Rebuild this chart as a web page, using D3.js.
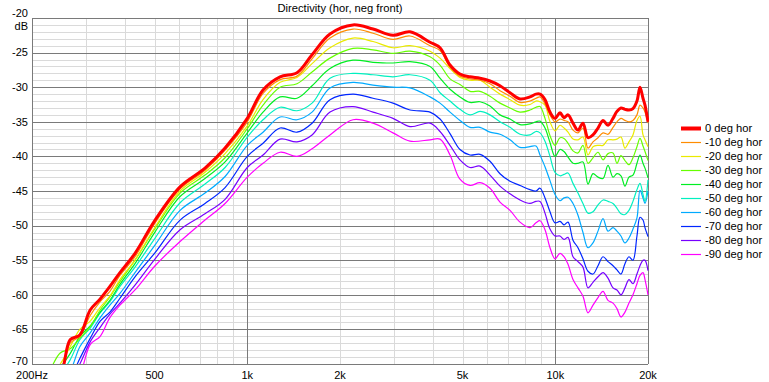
<!DOCTYPE html>
<html><head><meta charset="utf-8">
<script src="https://cdn.jsdelivr.net/npm/d3@7"></script>
<style>
body{margin:0;background:#fff;}
svg{display:block;font-family:"Liberation Sans",Arial,sans-serif;}
</style></head><body>
<svg id="chart" width="769" height="382"></svg>
<script>
// ---- data (Hz, dB) ----
const freqs = [229,247,266,286,309,333,358,386,432,502,605,729,847,1000,1125,1278,1450,1623,1856,2204,2560,2972,3375,3920,4224,4552,4904,5286,5697,6138,6614,7129,7682,8278,8656,8921,9260,9612,9980,10360,10675,11000,11416,11850,12300,12770,13256,13762,14288,14830,15396,15860,16340,16836,17346,17874,18416,18838,19266,19556,20000];

const deg0 = [-72,-71.5,-66.5,-65.8,-62.2,-60.6,-58.8,-56.8,-54.0,-49.2,-44.4,-41.7,-38.8,-34.5,-30.4,-28.5,-27.9,-25.3,-22.3,-21.0,-21.6,-22.5,-22.0,-23.5,-24.3,-26.8,-28.1,-28.5,-28.7,-29.1,-29.8,-30.8,-31.7,-31.4,-31.0,-31.0,-31.8,-33.6,-34.5,-33.7,-34.4,-34.0,-35.2,-36.2,-35.2,-37.3,-36.9,-35.9,-34.8,-35.5,-34.5,-33.5,-33.0,-33.2,-33.3,-33.1,-32.0,-30.0,-31.6,-32.6,-35.0];
const deg10 = [-72.5,-71.5,-67.0,-66.0,-63.0,-61.0,-59.5,-57.2,-54.5,-49.6,-44.7,-42.0,-39.1,-35.0,-30.9,-28.9,-28.4,-25.9,-22.9,-21.6,-22.2,-23.1,-22.6,-24.0,-24.7,-27.1,-28.4,-28.8,-29.0,-29.5,-30.5,-31.3,-32.2,-32.0,-31.6,-31.4,-32.4,-34.0,-35.0,-34.6,-34.8,-35.0,-36.2,-36.6,-35.9,-38.8,-37.9,-37.3,-36.6,-36.8,-35.8,-35.0,-34.5,-34.8,-35.0,-34.8,-34.0,-32.6,-33.0,-33.6,-35.2];
const deg20 = [-71.5,-70.0,-67.5,-65.0,-63.8,-61.8,-60.2,-57.8,-55.0,-50.2,-45.0,-42.3,-39.6,-35.6,-31.8,-29.3,-28.6,-26.6,-24.3,-22.9,-23.4,-24.3,-24.0,-24.8,-25.8,-27.3,-28.6,-29.0,-29.0,-30.0,-31.0,-31.8,-32.6,-32.5,-32.0,-32.1,-32.6,-35.0,-36.3,-35.5,-35.9,-36.5,-37.5,-37.6,-37.2,-39.8,-38.6,-38.4,-38.4,-37.6,-37.6,-37.5,-37.2,-38.8,-37.9,-36.9,-34.8,-34.2,-36.9,-37.6,-38.6];
const deg30 = [-71.0,-68.4,-67.8,-66.3,-64.6,-62.2,-60.3,-58.1,-55.0,-50.4,-45.3,-42.7,-40.2,-36.0,-32.6,-30.0,-29.5,-27.8,-25.8,-24.4,-24.6,-25.1,-24.8,-25.6,-26.8,-28.8,-29.6,-30.6,-30.6,-31.3,-32.3,-33.0,-33.6,-33.3,-32.9,-32.8,-34.5,-37.0,-38.4,-37.3,-37.4,-38.1,-39.2,-39.5,-38.4,-41.0,-40.2,-39.4,-40.5,-39.6,-39.5,-41.0,-39.9,-40.6,-41.2,-40.2,-38.6,-37.4,-38.5,-39.3,-40.6];
const deg40 = [-72.0,-70.5,-68.5,-66.0,-64.5,-62.5,-60.8,-58.5,-55.5,-50.9,-45.8,-43.2,-40.8,-36.6,-33.6,-31.4,-31.6,-29.8,-27.3,-26.1,-26.4,-26.5,-26.3,-27.0,-28.7,-30.3,-31.4,-32.2,-32.1,-32.7,-34.0,-34.6,-35.4,-35.3,-35.0,-34.9,-35.9,-38.0,-40.0,-39.0,-39.3,-40.1,-41.0,-41.0,-40.8,-44.0,-42.5,-43.0,-43.2,-41.3,-43.0,-42.5,-42.8,-44.3,-43.0,-42.7,-41.0,-39.8,-41.0,-41.7,-43.1];
const deg50 = [-73.0,-71.5,-69.4,-66.5,-64.8,-62.6,-61.0,-58.8,-56.0,-51.8,-46.7,-44.0,-41.6,-37.2,-34.7,-32.9,-33.4,-32.3,-28.7,-28.0,-28.2,-28.5,-28.2,-29.0,-30.8,-32.0,-33.2,-34.0,-33.5,-34.0,-35.0,-35.8,-36.8,-36.9,-36.4,-36.6,-37.8,-40.0,-42.3,-42.8,-42.6,-42.4,-43.9,-45.3,-46.8,-48.2,-48.0,-47.0,-46.3,-46.5,-46.8,-47.5,-48.3,-48.4,-47.8,-46.5,-44.8,-43.9,-45.5,-46.5,-43.4];
const deg60 = [-73.5,-72.5,-71.0,-67.5,-65.5,-63.3,-61.5,-59.8,-56.8,-52.8,-47.8,-45.3,-42.9,-38.4,-36.5,-34.3,-34.7,-33.6,-30.1,-29.3,-29.7,-30.0,-30.1,-31.4,-32.3,-33.6,-34.8,-35.8,-35.8,-36.5,-36.8,-37.6,-38.7,-38.6,-38.5,-39.8,-41.5,-43.5,-45.5,-46.4,-46.0,-45.9,-46.8,-48.5,-51.0,-53.2,-52.5,-50.8,-49.0,-50.8,-50.3,-50.8,-51.5,-52.5,-51.8,-50.5,-48.9,-44.9,-46.0,-46.8,-45.0];
const deg70 = [-74.0,-73.0,-72.0,-69.2,-66.3,-63.8,-62.5,-60.5,-57.4,-53.9,-49.2,-46.8,-44.5,-40.0,-38.1,-35.9,-36.5,-35.2,-31.8,-31.0,-31.6,-32.3,-33.3,-33.6,-34.6,-36.7,-39.0,-39.8,-39.7,-40.7,-42.5,-43.6,-44.2,-44.8,-45.0,-44.6,-46.0,-48.0,-49.6,-49.4,-49.9,-49.5,-52.1,-53.2,-54.8,-56.6,-57.0,-55.8,-54.5,-55.2,-55.8,-56.4,-57.0,-55.5,-54.5,-55.0,-51.5,-48.8,-49.2,-50.3,-51.6];
const deg80 = [-74.5,-73.5,-72.5,-70.0,-66.8,-64.7,-62.8,-61.2,-58.6,-54.8,-50.6,-48.3,-46.2,-41.6,-39.8,-37.5,-37.9,-36.9,-33.6,-32.8,-33.6,-34.5,-35.7,-35.2,-36.4,-38.4,-40.5,-41.6,-41.4,-42.7,-44.3,-45.4,-46.3,-46.8,-46.5,-46.5,-48.2,-50.5,-51.5,-51.5,-52.0,-51.7,-54.5,-55.2,-56.0,-59.0,-58.2,-57.4,-56.8,-57.6,-59.0,-59.3,-60.0,-59.0,-57.8,-58.4,-57.0,-55.8,-55.0,-55.0,-56.5];
const deg90 = [-75.0,-74.0,-73.0,-71.5,-67.2,-66.0,-63.3,-61.5,-59.3,-55.8,-52.3,-49.2,-46.8,-43.0,-41.0,-39.4,-40.0,-38.9,-36.9,-34.7,-35.2,-36.6,-37.8,-37.6,-37.5,-39.8,-43.3,-44.2,-43.8,-44.6,-46.6,-47.8,-49.5,-50.3,-49.6,-49.3,-50.6,-53.2,-54.8,-54.0,-54.5,-55.6,-57.8,-59.0,-60.2,-62.6,-61.5,-60.4,-59.5,-60.8,-61.2,-62.0,-63.2,-62.5,-61.2,-60.0,-58.4,-57.2,-56.8,-57.8,-60.0];

const seriesNames = ["0 deg hor","-10 deg hor","-20 deg hor","-30 deg hor","-40 deg hor","-50 deg hor","-60 deg hor","-70 deg hor","-80 deg hor","-90 deg hor"];
const seriesValues = [deg0,deg10,deg20,deg30,deg40,deg50,deg60,deg70,deg80,deg90];

const xTickValues = [200,500,1000,2000,5000,10000,20000];
const xTickLabels = ["200Hz","500","1k","2k","5k","10k","20k"];
const yTickValues = [-20,-25,-30,-35,-40,-45,-50,-55,-60,-65,-70];
const titleText = "Directivity (hor, neg front)";
const yUnit = "dB";

// ---- styles ----
const colors = ["#ff0000","#ff8c00","#eaea00","#66ff00","#00ee22","#00f0c0","#00aaff","#0026ff","#7700ff","#ff00ff"];
const widths = [3,1.2,1.2,1.2,1.2,1.2,1.2,1.2,1.2,1.2];

const svg = d3.select("#chart");
const L=32, R=648, T=18, B=364;
const x = d3.scaleLog().domain([200,20000]).range([L,R]);
const y = d3.scaleLinear().domain([-70,-20]).range([B,T]);
const cr = v => Math.round(v)+0.5;

// grid
const g = svg.append("g").attr("shape-rendering","crispEdges");
const minorY = d3.range(-69,-20,1).filter(v=>v%5!==0);
g.selectAll("line.hy").data(minorY).join("line")
  .attr("x1",L).attr("x2",R).attr("y1",d=>cr(y(d))).attr("y2",d=>cr(y(d)))
  .attr("stroke","#dadada");
const minorX = x.ticks().filter(v=>v>200 && v<20000 && v!==1000 && v!==10000);
g.selectAll("line.vx").data(minorX).join("line")
  .attr("y1",T).attr("y2",B).attr("x1",d=>cr(x(d))).attr("x2",d=>cr(x(d)))
  .attr("stroke","#dadada");
g.selectAll("line.my").data(yTickValues).join("line")
  .attr("x1",L).attr("x2",R).attr("y1",d=>cr(y(d))).attr("y2",d=>cr(y(d)))
  .attr("stroke","#7a7a7a");
g.selectAll("line.mx").data([200,1000,10000,20000]).join("line")
  .attr("y1",T).attr("y2",B).attr("x1",d=>cr(x(d))).attr("x2",d=>cr(x(d)))
  .attr("stroke","#7a7a7a");

// curves
svg.append("clipPath").attr("id","clip").append("rect")
  .attr("x",L).attr("y",T).attr("width",R-L+1).attr("height",B-T);
const line = d3.line().x((d,i)=>x(freqs[i])).y(d=>y(d)).curve(d3.curveCatmullRom.alpha(0.5));
const cg = svg.append("g").attr("clip-path","url(#clip)");
const order = d3.range(seriesValues.length).reverse();
cg.selectAll("path").data(order).join("path")
  .attr("d",i=>line(seriesValues[i]))
  .attr("fill","none")
  .attr("stroke",i=>colors[i])
  .attr("stroke-width",i=>widths[i])
  .attr("stroke-linejoin","round");

// axes labels
const yLabelY = d => d===-20 ? y(d)-4.5 : (d===-70 ? y(d)-2.5 : y(d));
svg.append("g").selectAll("text").data(yTickValues).join("text")
  .attr("x",28).attr("y",yLabelY).attr("dy","0.35em")
  .attr("text-anchor","end").attr("font-size",11).attr("fill","#000")
  .text(d=>d);
svg.append("text").attr("x",28).attr("y",y(-21.2)).attr("dy","0.35em")
  .attr("text-anchor","end").attr("font-size",11).attr("fill","#000").text(yUnit);
svg.append("g").selectAll("text").data(xTickValues).join("text")
  .attr("x",d=>x(d)).attr("y",B+11).attr("dy","0.35em")
  .attr("text-anchor","middle").attr("font-size",11).attr("fill","#000")
  .text((d,i)=>xTickLabels[i]);
svg.append("text").attr("x",(L+R)/2).attr("y",8).attr("dy","0.35em")
  .attr("text-anchor","middle").attr("font-size",11.2).attr("fill","#000").text(titleText);

// legend
const lg = svg.append("g");
const items = lg.selectAll("g").data(seriesNames).join("g")
  .attr("transform",(d,i)=>`translate(681,${128+i*14})`);
items.append("line").attr("x1",0).attr("x2",20).attr("y1",0.5).attr("y2",0.5)
  .attr("stroke",(d,i)=>colors[i]).attr("stroke-width",(d,i)=>i===0?4:1.2);
items.append("text").attr("x",24).attr("y",0).attr("dy","0.35em")
  .attr("font-size",11.2).attr("fill","#000").text(d=>d);
</script>
</body></html>
